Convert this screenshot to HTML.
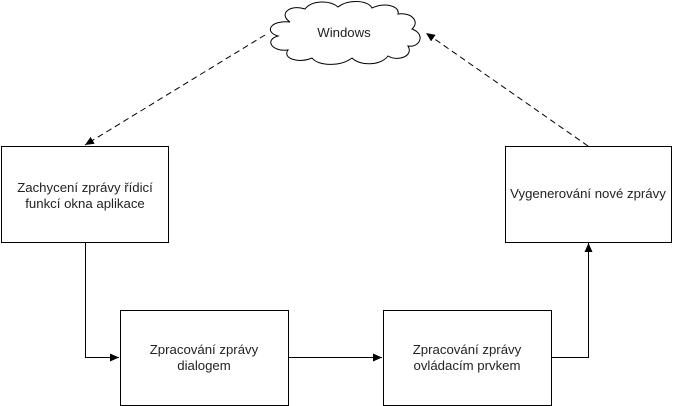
<!DOCTYPE html>
<html><head><style>body{margin:0;background:#fff}svg{display:block}text{font-family:"Liberation Sans",sans-serif;font-size:13.2px;fill:#222}</style></head><body>
<svg width="673" height="406" viewBox="0 0 673 406">
<defs><marker id="a" markerWidth="10" markerHeight="10" refX="9" refY="4" orient="auto" markerUnits="userSpaceOnUse"><path d="M0,0 L9,4 L0,8z" fill="#000"/></marker></defs>
<g fill="#fff" stroke="#000" stroke-width="1">
<path d="M290,22 C278,14 290,4 305,9 C312,0 330,0 338,7 C348,-1 368,0 372,8 C385,2 400,6 398,14 C412,12 420,22 412,29 C426,34 420,48 408,46 C414,56 398,62 388,56 C380,66 360,66 352,58 C340,67 318,66 312,58 C298,64 282,58 288,50 C272,52 264,40 278,36 C264,32 270,20 290,22 Z"/>
<rect x="1.5" y="146.5" width="167" height="96"/>
<rect x="505.5" y="146.5" width="166" height="96"/>
<rect x="120.5" y="310.5" width="168" height="95"/>
<rect x="383.5" y="310.5" width="168" height="95"/>
</g>
<g fill="none" stroke="#000">
<path d="M85.5,243 V357.5 H119" marker-end="url(#a)"/>
<path d="M289,357.5 H382" marker-end="url(#a)"/>
<path d="M552,357.5 H588.5 V243" marker-end="url(#a)"/>
<path d="M265,35 L85,145" stroke-dasharray="6,4" marker-end="url(#a)"/>
<path d="M588,146 L426,33" stroke-dasharray="6,4" marker-end="url(#a)"/>
</g>
<text x="344" y="37" text-anchor="middle">Windows</text>
<text x="85" y="192" text-anchor="middle">Zachycení zprávy řídicí</text>
<text x="85" y="208" text-anchor="middle">funkcí okna aplikace</text>
<text x="588" y="198" text-anchor="middle">Vygenerování nové zprávy</text>
<text x="204" y="354" text-anchor="middle">Zpracování zprávy</text>
<text x="204" y="370" text-anchor="middle">dialogem</text>
<text x="467" y="354" text-anchor="middle">Zpracování zprávy</text>
<text x="467" y="370" text-anchor="middle">ovládacím prvkem</text>
</svg></body></html>
